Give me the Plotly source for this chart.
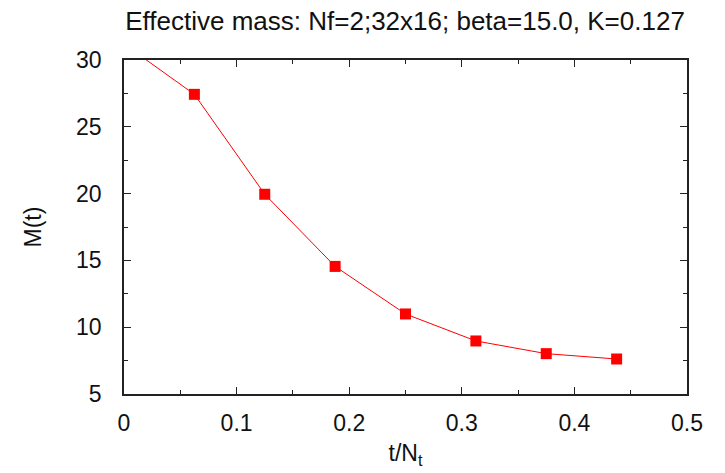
import plotly.graph_objects as go

t_over_Nt = [0.0, 0.0625, 0.125, 0.1875, 0.25, 0.3125, 0.375, 0.4375]
mass = [31.2, 27.43, 19.95, 14.55, 10.99, 8.97, 8.02, 7.62]

title_text = "Effective mass: Nf=2;32x16; beta=15.0, K=0.127"
x_label = "t/N<sub>t</sub>"
y_label = "M(t)"

FONT = "Liberation Sans, Helvetica, Arial, sans-serif"

fig = go.Figure()
fig.add_trace(go.Scatter(
    x=t_over_Nt, y=mass, mode="lines+markers",
    line=dict(color="#ff0000", width=1),
    marker=dict(symbol="square", size=11, color="#ff0000"),
    cliponaxis=True, showlegend=False,
))

axis_common = dict(
    showgrid=False, zeroline=False, showline=True, linecolor="#222222", linewidth=1.5,
    mirror="ticks", ticks="inside", ticklen=7, tickwidth=1, tickcolor="#222222",
    tickfont=dict(family=FONT, size=23, color="#111111"),
)

fig.update_xaxes(
    range=[0, 0.5], dtick=0.1, tick0=0,
    minor=dict(dtick=0.05, ticks="inside", ticklen=4, tickcolor="#222222"),
    title=dict(text=x_label, font=dict(family=FONT, size=23, color="#111111"), standoff=10),
    ticklabelstandoff=8,
    **axis_common,
)
fig.update_yaxes(
    range=[5, 30], dtick=5, tick0=5,
    minor=dict(dtick=2.5, ticks="inside", ticklen=4, tickcolor="#222222"),
    title=dict(text=y_label, font=dict(family=FONT, size=23, color="#111111"), standoff=28),
    ticklabelstandoff=16,
    **axis_common,
)

fig.update_layout(
    width=725, height=473,
    margin=dict(l=124, r=38, t=60, b=79),
    plot_bgcolor="white", paper_bgcolor="white",
    title=dict(text=title_text, x=0.5587, xanchor="center", y=0.955, yanchor="middle",
               font=dict(family=FONT, size=26, color="#111111")),
)

fig.write_html("out.html")
